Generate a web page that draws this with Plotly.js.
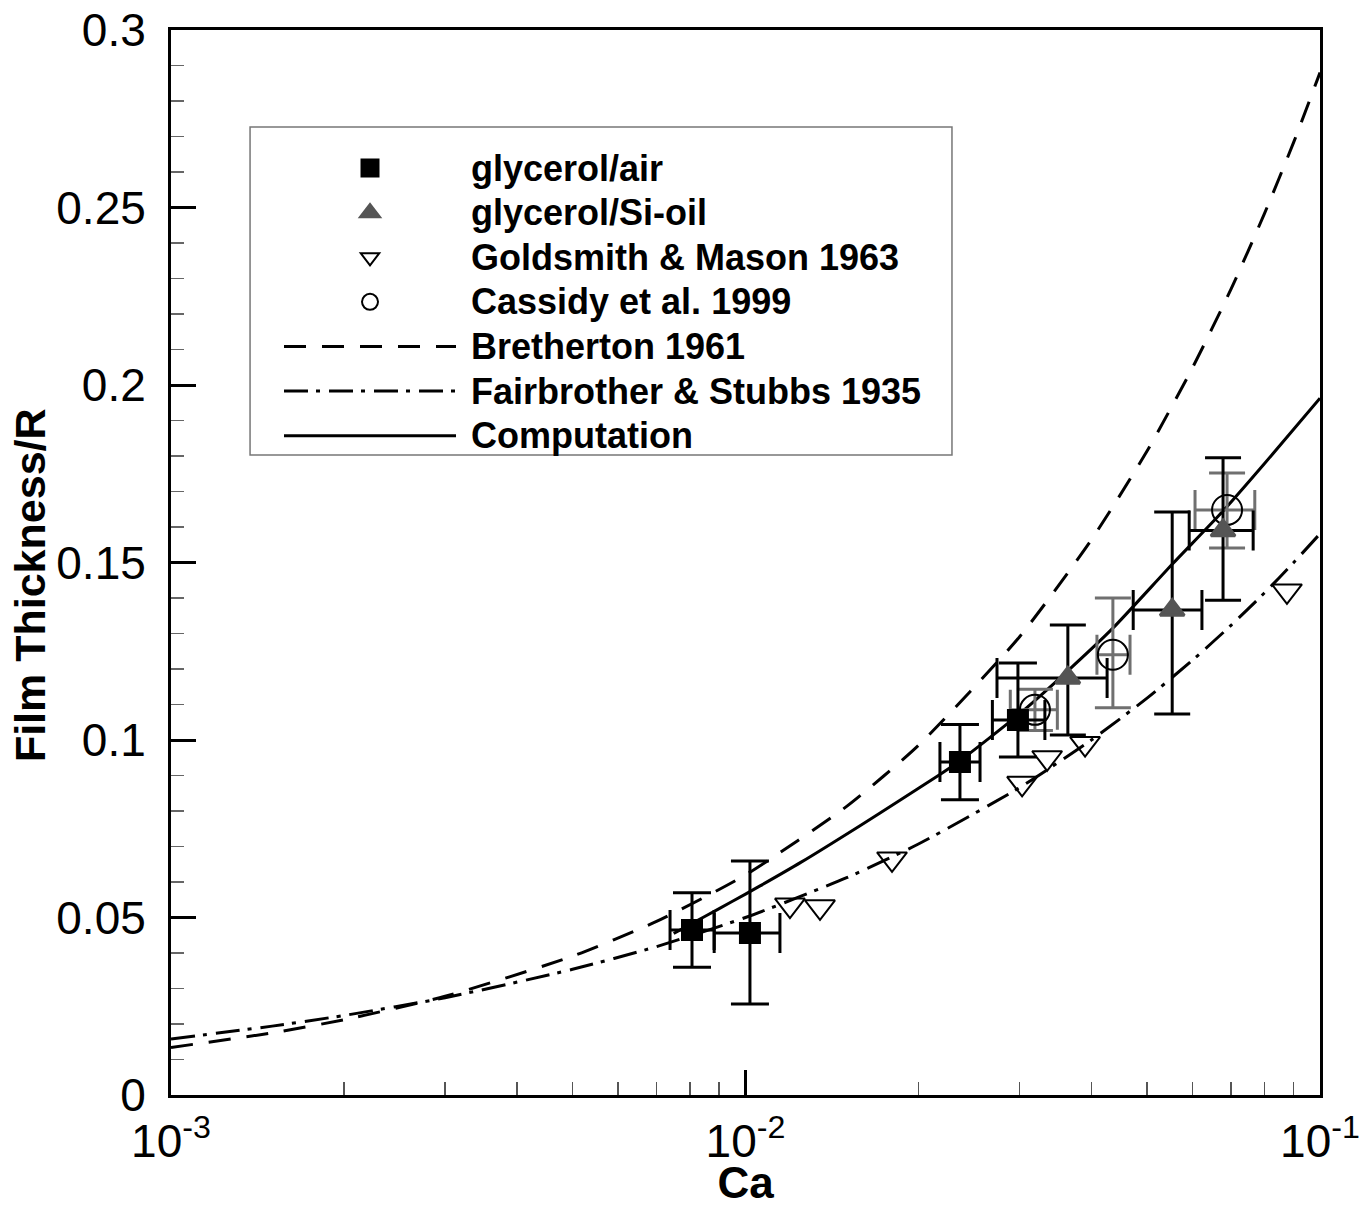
<!DOCTYPE html>
<html><head><meta charset="utf-8">
<script src="https://cdn.plot.ly/plotly-3.0.1.min.js"></script>
<style>html,body{margin:0;padding:0;background:#fff}#chart{width:1371px;height:1207px}</style>
</head><body><div id="chart"></div>
<script>
// ---- data ----
const airCa    = [0.00807, 0.01018, 0.02362, 0.0298];
const airH     = [0.0465, 0.0456, 0.0938, 0.1056];
const airHUp   = [0.0105, 0.0203, 0.0106, 0.0161];
const airHDn   = [0.0105, 0.0200, 0.0106, 0.0104];
const airCaLo  = [0.00739, 0.00882, 0.0218, 0.0269];
const airCaHi  = [0.00882, 0.01148, 0.0256, 0.0332];

const oilCa    = [0.0364, 0.0553, 0.0678];
const oilH     = [0.1175, 0.1366, 0.159];
const oilHUp   = [0.0149, 0.0276, 0.0205];
const oilHDn   = [0.0161, 0.0293, 0.0196];
const oilCaLo  = [0.0274, 0.0473, 0.0592];
const oilCaHi  = [0.0426, 0.0623, 0.0765];

const gmCa     = [0.01195, 0.01348, 0.01799, 0.0303, 0.0335, 0.039, 0.0876];
const gmH      = [0.0535, 0.053, 0.0665, 0.0878, 0.095, 0.099, 0.142];

const csCa     = [0.0319, 0.0436, 0.0689];
const csH      = [0.1085, 0.124, 0.1648];
const csHUp    = [0.0058, 0.016, 0.0104];
const csHDn    = [0.0058, 0.0149, 0.0107];
const csCaLo   = [0.0289, 0.0409, 0.0606];
const csCaHi   = [0.0349, 0.0467, 0.0770];

const brCa = [0.001, 0.0015, 0.002, 0.003, 0.005, 0.007, 0.01, 0.015, 0.02, 0.03, 0.04, 0.05, 0.06, 0.07, 0.08, 0.09, 0.1];
const brH  = [0.0134, 0.0175, 0.0212, 0.0278, 0.0391, 0.0489, 0.062, 0.0813, 0.0985, 0.1291, 0.1564, 0.1814, 0.2049, 0.227, 0.2482, 0.2684, 0.288];

const fsCa = [0.001, 0.0015, 0.002, 0.003, 0.005, 0.007, 0.01, 0.015, 0.02, 0.03, 0.04, 0.05, 0.06, 0.07, 0.08, 0.09, 0.1];
const fsH  = [0.0158, 0.0194, 0.0224, 0.0274, 0.0354, 0.0418, 0.05, 0.0612, 0.0707, 0.0866, 0.1, 0.1118, 0.1225, 0.1323, 0.1414, 0.15, 0.1581];

const cpCa = [0.0075, 0.008, 0.009, 0.01, 0.0106, 0.0125, 0.0158, 0.0186, 0.0218, 0.0236, 0.0298, 0.0364, 0.0436, 0.0553, 0.0678, 0.08, 0.1];
const cpH  = [0.0455, 0.048, 0.0525, 0.0566, 0.0589, 0.0656, 0.0758, 0.0831, 0.0903, 0.0941, 0.107, 0.1195, 0.1315, 0.1495, 0.1645, 0.1778, 0.1963];

const xTickVals  = [0.001, 0.01, 0.1];
const xTickText  = ['10<sup>-3</sup>', '10<sup>-2</sup>', '10<sup>-1</sup>'];
const xMinorVals = [0.002,0.003,0.004,0.005,0.006,0.007,0.008,0.009,0.02,0.03,0.04,0.05,0.06,0.07,0.08,0.09];
const yTickVals  = [0, 0.05, 0.1, 0.15, 0.2, 0.25, 0.3];
const yTickText  = ['0', '0.05', '0.1', '0.15', '0.2', '0.25', '0.3'];

const seriesNames = ['glycerol/air', 'glycerol/Si-oil', 'Goldsmith &amp; Mason 1963', 'Cassidy et al. 1999',
                     'Bretherton 1961', 'Fairbrother &amp; Stubbs 1935', 'Computation'];
const xTitle = 'Ca';
const yTitle = 'Film Thickness/R';

// ---- helpers ----
const sub = (a, b) => a.map((v, i) => v - b[i]);
const FONT = 'Liberation Sans, Arial, Helvetica, sans-serif';
const lg = s => '<span style="font-size:36px">\u00a0' + s + '</span>';

const traces = [
  {x: brCa, y: brH, mode: 'lines', name: lg(seriesNames[4]), legendrank: 5,
   line: {color: '#000', width: 3, dash: '22px,16px', shape: 'spline', smoothing: 0.6}},
  {x: fsCa, y: fsH, mode: 'lines', name: lg(seriesNames[5]), legendrank: 6,
   line: {color: '#000', width: 3, dash: '24px,8px,4px,9px', shape: 'spline', smoothing: 0.6}},
  {x: cpCa, y: cpH, mode: 'lines', name: lg(seriesNames[6]), legendrank: 7,
   line: {color: '#000', width: 3, shape: 'spline', smoothing: 0.6}},
  {x: gmCa, y: gmH, mode: 'markers', name: lg(seriesNames[2]), legendrank: 3,
   marker: {symbol: 'triangle-down-open', size: 26, color: '#000', line: {width: 2, color: '#000'}}},
  {x: csCa, y: csH, mode: 'markers', name: lg(seriesNames[3]), legendrank: 4,
   marker: {symbol: 'circle-open', size: 30, color: '#000', line: {width: 2, color: '#000'}},
   error_y: {type: 'data', symmetric: false, array: csHUp, arrayminus: csHDn, color: '#707070', thickness: 3, width: 18},
   error_x: {type: 'data', symmetric: false, array: sub(csCaHi, csCa), arrayminus: sub(csCa, csCaLo), color: '#707070', thickness: 3, width: 20}},
  {x: oilCa, y: oilH, mode: 'markers', name: lg(seriesNames[1]), legendrank: 2,
   marker: {symbol: 'triangle-up', size: 21, color: '#555', line: {width: 3, color: '#555'}},
   error_y: {type: 'data', symmetric: false, array: oilHUp, arrayminus: oilHDn, color: '#000', thickness: 3, width: 18},
   error_x: {type: 'data', symmetric: false, array: sub(oilCaHi, oilCa), arrayminus: sub(oilCa, oilCaLo), color: '#000', thickness: 3, width: 20}},
  {x: airCa, y: airH, mode: 'markers', name: lg(seriesNames[0]), legendrank: 1,
   marker: {symbol: 'square', size: 19, color: '#000', line: {width: 3, color: '#000'}},
   error_y: {type: 'data', symmetric: false, array: airHUp, arrayminus: airHDn, color: '#000', thickness: 3, width: 19},
   error_x: {type: 'data', symmetric: false, array: sub(airCaHi, airCa), arrayminus: sub(airCa, airCaLo), color: '#000', thickness: 3, width: 20}},
  // carrier for the minor-tick axis (no points)
  {x: [], y: [], xaxis: 'x2', yaxis: 'y', mode: 'markers', showlegend: false, hoverinfo: 'skip'}
];

const layout = {
  width: 1371, height: 1207,
  margin: {l: 171, r: 51, t: 30, b: 112},
  paper_bgcolor: '#fff', plot_bgcolor: '#fff',
  font: {family: FONT, color: '#000'},
  showlegend: true,
  legend: {
    x: 0.094, y: 0.896, xanchor: 'left', yanchor: 'top',
    bgcolor: 'rgba(0,0,0,0)', borderwidth: 0,
    font: {family: FONT, size: 32, color: '#000', weight: 'bold'},
    itemwidth: 172, traceorder: 'normal'
  },
  xaxis: {
    type: 'log', range: [-3, -1],
    tickmode: 'array', tickvals: xTickVals, ticktext: xTickText,
    ticks: 'inside', ticklen: 25, tickwidth: 3, tickcolor: '#000',
    showline: true, linewidth: 3, linecolor: '#000', mirror: true,
    showgrid: false, zeroline: false, ticklabelstandoff: 4,
    tickfont: {family: FONT, size: 46, color: '#000'},
    title: {text: xTitle, font: {family: FONT, size: 44, color: '#000', weight: 'bold'}, standoff: 5}
  },
  xaxis2: {
    type: 'log', range: [-3, -1], overlaying: 'x', anchor: 'y', side: 'bottom',
    tickmode: 'array', tickvals: xMinorVals, showticklabels: false,
    ticks: 'inside', ticklen: 13, tickwidth: 1.5, tickcolor: '#555',
    showline: false, showgrid: false, zeroline: false
  },
  yaxis: {
    range: [0, 0.3],
    tickmode: 'array', tickvals: yTickVals, ticktext: yTickText,
    ticks: 'inside', ticklen: 25, tickwidth: 3, tickcolor: '#000',
    minor: {tickmode: 'linear', tick0: 0, dtick: 0.01, ticks: 'inside', ticklen: 13, tickwidth: 1.5, tickcolor: '#666', showgrid: false},
    showline: true, linewidth: 3, linecolor: '#000', mirror: true,
    showgrid: false, zeroline: false, ticklabelstandoff: 13,
    tickfont: {family: FONT, size: 46, color: '#000'}
  },
  annotations: [{
    text: yTitle, xref: 'paper', yref: 'paper', x: -0.1225, y: 0.479,
    xanchor: 'center', yanchor: 'middle', textangle: -90, showarrow: false,
    font: {family: FONT, size: 43, color: '#000', weight: 'bold'}
  }],
  shapes: [{
    type: 'rect', xref: 'paper', yref: 'paper', layer: 'below',
    x0: 0.0688, x1: 0.6797, y0: 0.6009, y1: 0.9089,
    line: {color: '#777', width: 1.5}, fillcolor: '#fff'
  }]
};

Plotly.newPlot('chart', traces, layout, {displayModeBar: false, staticPlot: true});
</script></body></html>
